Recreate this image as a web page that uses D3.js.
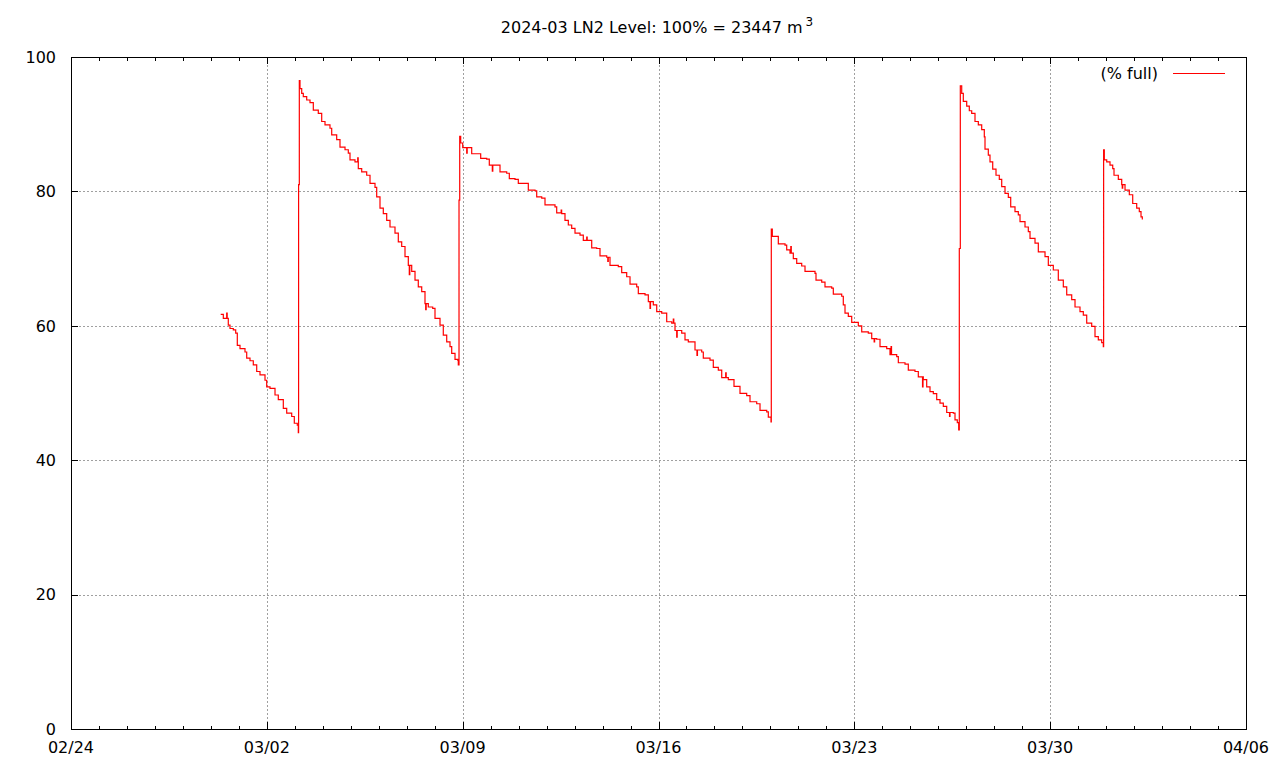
<!DOCTYPE html>
<html>
<head>
<meta charset="utf-8">
<script src="https://cdn.jsdelivr.net/npm/d3@7"></script>
<style>
  html, body { margin: 0; padding: 0; background: #fff; }
  svg { display: block; font-family: "DejaVu Sans", sans-serif; }
</style>
</head>
<body>
<svg id="chart" width="1280" height="768"></svg>
<script>
// ---- data ----
const chartTitle = "2024-03 LN2 Level: 100% = 23447 m";
const titleSup = "3";
const seriesLabel = "(% full)";
const xTickLabels = ["02/24", "03/02", "03/09", "03/16", "03/23", "03/30", "04/06"];
const xTickDates = ["2024-02-24", "2024-03-02", "2024-03-09", "2024-03-16", "2024-03-23", "2024-03-30", "2024-04-06"];
const yTicks = [0, 20, 40, 60, 80, 100];

const times = [
  "02-29 08:25","02-29 10:40","02-29 14:56","02-29 16:24","02-29 19:14","02-29 21:17","02-29 22:40",
  "03-01 00:59","03-01 05:16","03-01 06:44","03-01 09:34","03-01 12:23","03-01 15:19","03-01 18:08","03-01 22:26","03-01 23:53",
  "03-02 02:43","03-02 07:01","03-02 09:50","03-02 14:08","03-02 17:03","03-02 21:20","03-02 23:34",
  "03-03 02:08","03-03 03:00","03-03 03:15","03-03 03:52","03-03 04:27","03-03 05:55","03-03 07:17","03-03 10:12","03-03 13:02","03-03 15:52","03-03 20:09","03-03 23:04",
  "03-04 01:54","03-04 06:11","03-04 07:39","03-04 11:56","03-04 14:46","03-04 19:04","03-04 21:53","03-04 23:21",
  "03-05 03:38","03-05 06:28","03-05 09:23","03-05 13:40","03-05 16:31","03-05 20:48","03-05 22:15",
  "03-06 01:05","03-06 03:55","03-06 06:50","03-06 09:40","03-06 13:57","03-06 16:47","03-06 19:42","03-06 22:32",
  "03-07 01:22","03-07 04:17","03-07 07:07","03-07 09:56","03-07 12:52","03-07 15:41","03-07 18:31","03-07 22:18",
  "03-08 00:16","03-08 04:34","03-08 07:23","03-08 10:19","03-08 13:08","03-08 14:36","03-08 17:26","03-08 19:45","03-08 20:15","03-08 20:52","03-08 21:28","03-08 22:19",
  "03-09 00:02","03-09 07:45","03-09 15:28","03-09 20:37","03-09 22:51",
  "03-10 08:02","03-10 13:47","03-10 16:01","03-10 20:54","03-10 23:44",
  "03-11 08:19","03-11 14:04","03-11 15:31","03-11 19:49","03-11 22:38",
  "03-12 07:13","03-12 08:40","03-12 12:58","03-12 15:47","03-12 18:38","03-12 21:32",
  "03-13 00:22","03-13 04:40","03-13 07:29","03-13 14:42","03-13 18:59","03-13 21:49",
  "03-14 03:34","03-14 06:24","03-14 13:31","03-14 16:26","03-14 20:43","03-14 23:34",
  "03-15 05:18","03-15 06:41","03-15 12:26","03-15 15:16","03-15 19:33","03-15 22:28",
  "03-16 02:45","03-16 07:02","03-16 11:20","03-16 14:10","03-16 19:55","03-16 22:44",
  "03-17 01:34","03-17 07:19","03-17 13:04","03-17 14:26","03-17 20:11","03-17 23:01",
  "03-18 03:19","03-18 06:14","03-18 11:53","03-18 16:46","03-18 21:55",
  "03-19 03:40","03-19 06:30","03-19 12:15","03-19 15:05","03-19 20:50","03-19 22:12",
  "03-20 00:31","03-20 00:46","03-20 01:38","03-20 06:47","03-20 12:32","03-20 13:59","03-20 16:49","03-20 19:39","03-20 22:34",
  "03-21 02:51","03-21 05:41","03-21 14:16","03-21 15:07","03-21 20:01","03-21 22:50",
  "03-22 04:35","03-22 05:58","03-22 13:10","03-22 14:32","03-22 16:00","03-22 18:50","03-22 21:45",
  "03-23 03:25","03-23 06:20","03-23 11:59","03-23 14:55","03-23 19:12","03-23 22:02",
  "03-24 03:47","03-24 06:36","03-24 12:21","03-24 13:44","03-24 19:28","03-24 22:18",
  "03-25 04:03","03-25 06:53","03-25 11:10","03-25 14:05","03-25 16:55","03-25 19:45","03-25 22:40",
  "03-26 01:30","03-26 04:20","03-26 07:15","03-26 12:55","03-26 14:22","03-26 16:20","03-26 17:32","03-26 18:03","03-26 18:55","03-26 20:07","03-26 21:29",
  "03-27 00:24","03-27 02:38","03-27 04:41","03-27 07:31","03-27 10:22","03-27 13:16","03-27 15:30","03-27 16:06","03-27 18:56","03-27 20:23","03-27 22:43",
  "03-28 01:32","03-28 04:22","03-28 06:26","03-28 09:16","03-28 12:06","03-28 14:09","03-28 17:50","03-28 20:40","03-28 22:08",
  "03-29 02:25","03-29 05:15","03-29 06:43","03-29 11:00","03-29 13:50","03-29 19:35","03-29 22:25",
  "03-30 02:42","03-30 06:59","03-30 11:17","03-30 14:12","03-30 18:29","03-30 21:19",
  "03-31 01:36","03-31 04:26","03-31 07:21","03-31 11:38","03-31 14:28","03-31 17:18","03-31 20:13","03-31 21:36","03-31 21:52","03-31 22:27",
  "04-01 00:31","04-01 03:20","04-01 05:40","04-01 06:46","04-01 10:28","04-01 13:23","04-01 16:13","04-01 19:54","04-01 22:49",
  "04-02 02:14","04-02 04:28","04-02 05:56","04-02 07:03"
];
const levels = [
  61.7,61.1,60.1,59.6,59.4,58.9,57.1,
  56.6,56.1,55.2,54.8,54.2,53.2,52.7,51.9,50.9,
  50.7,49.7,49.0,47.7,47.0,46.5,45.5,
  45.2,44.1,81.0,96.5,95.3,94.6,94.1,93.6,93.2,92.1,91.6,90.4,
  89.9,89.4,88.4,87.7,86.6,86.2,85.7,84.7,
  84.4,83.4,82.9,82.4,81.2,80.6,79.2,
  77.5,76.7,75.7,74.7,73.8,72.5,71.8,70.3,
  69.0,68.1,66.8,65.8,65.1,63.3,62.8,62.6,
  61.1,60.1,58.6,57.6,56.9,55.9,55.0,54.9,54.2,78.7,88.2,87.2,
  86.5,85.6,84.9,84.8,83.9,
  82.9,82.7,81.9,81.8,81.2,
  80.2,80.1,79.2,79.0,78.0,
  77.7,76.8,76.7,75.7,75.0,74.5,
  73.8,73.5,72.7,71.6,71.5,70.4,
  70.2,69.0,68.8,67.9,67.3,66.2,
  65.8,64.8,64.6,63.6,63.1,62.1,
  61.9,60.6,60.4,59.3,58.9,57.9,
  57.6,56.4,56.1,55.2,54.9,53.8,
  53.4,52.3,52.0,51.0,49.95,
  49.6,48.7,48.4,47.4,47.2,46.4,
  45.7,74.4,73.3,72.2,72.0,71.3,70.8,70.0,69.3,
  68.9,68.1,67.8,66.8,66.5,65.8,
  65.6,64.7,64.4,63.1,61.9,61.4,60.5,
  60.0,59.1,58.9,58.1,58.0,56.9,
  56.6,55.7,55.4,54.5,54.3,53.4,
  53.2,52.4,52.0,50.9,50.2,49.9,49.0,
  48.5,48.0,47.1,47.0,46.0,45.6,44.5,71.5,95.7,94.6,93.4,
  92.7,92.0,91.6,90.4,89.9,89.2,88.1,86.3,85.4,84.4,83.3,
  82.4,81.8,80.7,79.7,79.1,77.7,77.0,76.5,75.5,
  74.7,74.0,73.0,72.3,71.0,70.3,69.0,
  68.3,66.8,65.8,64.6,63.9,62.8,
  62.1,61.6,60.4,59.9,58.4,57.9,57.5,56.9,86.2,84.7,
  84.4,83.9,83.4,82.4,81.8,81.0,80.2,79.5,78.2,
  77.5,77.0,76.2,75.8
];

// short single-reading excursions seen on the trace
const spikeTimes = [
  "02-29 13:34","03-05 05:58","03-07 02:13","03-07 16:17","03-09 03:28","03-10 01:26",
  "03-12 12:30","03-13 10:25","03-14 04:30","03-15 16:43","03-16 12:42","03-16 15:37",
  "03-17 09:00","03-18 09:39","03-20 17:30","03-23 17:00","03-24 07:30","03-25 10:30",
  "03-26 09:40","04-01 13:50"
];
const spikeLevels = [
  61.9,85.0,67.6,62.4,85.7,83.0,
  77.2,73.2,69.6,62.6,61.0,58.3,
  55.6,53.0,71.8,57.6,56.9,50.9,
  46.5,80.5
];

// ---- layout ----
const L = 71, R = 1246, T = 57, B = 729;
const svg = d3.select("#chart");
const parseT = d3.utcParse("%Y-%m-%d %H:%M");
const parseD = d3.utcParse("%Y-%m-%d");

const x = d3.scaleUtc().domain([parseD(xTickDates[0]), parseD(xTickDates[xTickDates.length - 1])]).range([L, R]);
const y = d3.scaleLinear().domain([0, 100]).range([B, T]);

const base = times.map((t, i) => ({ t: parseT("2024-" + t), v: levels[i] }));
const bis = d3.bisector(d => d.t).right;
const extra = [];
spikeTimes.forEach((s, i) => {
  const ts = parseT("2024-" + s);
  const prev = base[Math.max(0, bis(base, ts) - 1)];
  extra.push({ t: ts, v: spikeLevels[i] });
  extra.push({ t: d3.utcMinute.offset(ts, 25), v: prev.v });
});
const data = base.concat(extra).sort((a, b) => a.t - b.t);

const majorDates = xTickDates.map(parseD);
const minorDates = d3.utcDay.range(x.domain()[0], x.domain()[1]);

// grid
const grid = svg.append("g").attr("stroke", "#a0a0a0").attr("stroke-width", 1)
  .attr("stroke-dasharray", "2,2").attr("shape-rendering", "crispEdges");
majorDates.slice(1, -1).forEach(d => {
  const px = Math.round(x(d)) + 0.5;
  grid.append("line").attr("x1", px).attr("x2", px).attr("y1", T).attr("y2", B);
});
yTicks.slice(1, -1).forEach(v => {
  const py = Math.round(y(v)) + 0.5;
  grid.append("line").attr("x1", L).attr("x2", R).attr("y1", py).attr("y2", py);
});

// ticks (inward, mirrored)
const tk = svg.append("g").attr("stroke", "#000").attr("stroke-width", 1).attr("shape-rendering", "crispEdges");
minorDates.forEach(d => {
  const px = Math.round(x(d)) + 0.5;
  const isMajor = majorDates.some(m => +m === +d);
  const len = isMajor ? 7 : 3.5;
  tk.append("line").attr("x1", px).attr("x2", px).attr("y1", B).attr("y2", B - len);
  tk.append("line").attr("x1", px).attr("x2", px).attr("y1", T).attr("y2", T + len);
});
yTicks.forEach(v => {
  const py = Math.round(y(v)) + 0.5;
  tk.append("line").attr("x1", L).attr("x2", L + 7).attr("y1", py).attr("y2", py);
  tk.append("line").attr("x1", R).attr("x2", R - 7).attr("y1", py).attr("y2", py);
});

// data line
const line = d3.line().x(d => x(d.t)).y(d => y(d.v)).curve(d3.curveStepAfter);
svg.append("path").datum(data).attr("d", line).attr("fill", "none")
  .attr("stroke", "#ff0000").attr("stroke-width", 1.2).attr("stroke-linejoin", "miter");

// border
svg.append("rect").attr("x", L + 0.5).attr("y", T + 0.5).attr("width", R - L).attr("height", B - T)
  .attr("fill", "none").attr("stroke", "#000").attr("stroke-width", 1).attr("shape-rendering", "crispEdges");

// tick labels
const lab = svg.append("g").attr("font-size", 16).attr("fill", "#000");
yTicks.forEach(v => {
  lab.append("text").attr("x", 56).attr("y", y(v)).attr("dy", "0.36em")
    .attr("text-anchor", "end").text(v);
});
majorDates.forEach((d, i) => {
  lab.append("text").attr("x", x(d)).attr("y", 753).attr("text-anchor", "middle").text(xTickLabels[i]);
});

// title
const title = svg.append("text").attr("x", 657).attr("y", 33).attr("text-anchor", "middle")
  .attr("font-size", 16).attr("fill", "#000");
title.append("tspan").text(chartTitle);
title.append("tspan").attr("dx", 3).attr("dy", -7).attr("font-size", 12).text(titleSup);

// legend
svg.append("text").attr("x", 1158).attr("y", 73).attr("dy", "0.36em").attr("text-anchor", "end")
  .attr("font-size", 16).attr("fill", "#000").text(seriesLabel);
svg.append("line").attr("x1", 1173).attr("x2", 1225).attr("y1", 73.5).attr("y2", 73.5)
  .attr("stroke", "#ff0000").attr("stroke-width", 1).attr("shape-rendering", "crispEdges");
</script>
</body>
</html>
